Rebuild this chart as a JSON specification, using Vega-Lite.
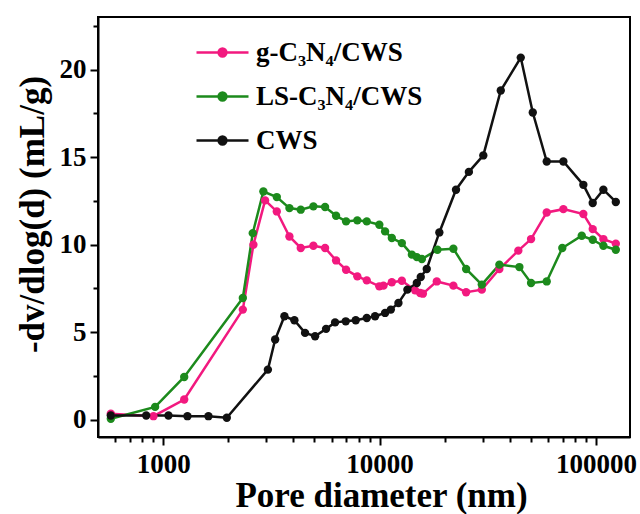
{
  "$schema": "https://vega.github.io/schema/vega-lite/v6.json",
  "autosize": "none",
  "width": 532,
  "height": 420,
  "padding": {"left": 98, "top": 17, "right": 10, "bottom": 77},
  "background": "white",
  "config": {
    "view": {"stroke": "black", "strokeWidth": 2},
    "font": "Liberation Serif",
    "axis": {
      "grid": false,
      "domainColor": "black",
      "domainWidth": 2,
      "tickColor": "black",
      "tickWidth": 2,
      "labelFont": "Liberation Serif",
      "labelFontWeight": "bold",
      "labelFontSize": 27,
      "labelColor": "black",
      "titleFont": "Liberation Serif",
      "titleFontWeight": "bold",
      "titleFontSize": 35,
      "titleColor": "black"
    }
  },
  "data": {
    "values": [
      {"d": 573, "v": 0.33, "s": "g-C₃N₄/CWS"},
      {"d": 902, "v": 0.19, "s": "g-C₃N₄/CWS"},
      {"d": 1251, "v": 1.14, "s": "g-C₃N₄/CWS"},
      {"d": 2334, "v": 6.28, "s": "g-C₃N₄/CWS"},
      {"d": 2612, "v": 9.99, "s": "g-C₃N₄/CWS"},
      {"d": 2958, "v": 12.52, "s": "g-C₃N₄/CWS"},
      {"d": 3350, "v": 11.89, "s": "g-C₃N₄/CWS"},
      {"d": 3831, "v": 10.46, "s": "g-C₃N₄/CWS"},
      {"d": 4322, "v": 9.8, "s": "g-C₃N₄/CWS"},
      {"d": 4945, "v": 9.93, "s": "g-C₃N₄/CWS"},
      {"d": 5598, "v": 9.8, "s": "g-C₃N₄/CWS"},
      {"d": 6293, "v": 9.09, "s": "g-C₃N₄/CWS"},
      {"d": 7000, "v": 8.56, "s": "g-C₃N₄/CWS"},
      {"d": 7889, "v": 8.18, "s": "g-C₃N₄/CWS"},
      {"d": 8724, "v": 7.95, "s": "g-C₃N₄/CWS"},
      {"d": 9970, "v": 7.61, "s": "g-C₃N₄/CWS"},
      {"d": 10420, "v": 7.65, "s": "g-C₃N₄/CWS"},
      {"d": 11390, "v": 7.84, "s": "g-C₃N₄/CWS"},
      {"d": 12670, "v": 7.93, "s": "g-C₃N₄/CWS"},
      {"d": 14590, "v": 7.38, "s": "g-C₃N₄/CWS"},
      {"d": 15390, "v": 7.23, "s": "g-C₃N₄/CWS"},
      {"d": 15850, "v": 7.19, "s": "g-C₃N₄/CWS"},
      {"d": 18370, "v": 7.89, "s": "g-C₃N₄/CWS"},
      {"d": 21920, "v": 7.65, "s": "g-C₃N₄/CWS"},
      {"d": 25100, "v": 7.27, "s": "g-C₃N₄/CWS"},
      {"d": 29660, "v": 7.42, "s": "g-C₃N₄/CWS"},
      {"d": 35750, "v": 8.6, "s": "g-C₃N₄/CWS"},
      {"d": 43740, "v": 9.65, "s": "g-C₃N₄/CWS"},
      {"d": 50090, "v": 10.31, "s": "g-C₃N₄/CWS"},
      {"d": 59180, "v": 11.83, "s": "g-C₃N₄/CWS"},
      {"d": 70630, "v": 12.02, "s": "g-C₃N₄/CWS"},
      {"d": 87360, "v": 11.74, "s": "g-C₃N₄/CWS"},
      {"d": 96520, "v": 10.88, "s": "g-C₃N₄/CWS"},
      {"d": 108100, "v": 10.31, "s": "g-C₃N₄/CWS"},
      {"d": 123400, "v": 10.05, "s": "g-C₃N₄/CWS"},

      {"d": 573, "v": 0.04, "s": "LS-C₃N₄/CWS"},
      {"d": 918, "v": 0.72, "s": "LS-C₃N₄/CWS"},
      {"d": 1251, "v": 2.43, "s": "LS-C₃N₄/CWS"},
      {"d": 2334, "v": 6.94, "s": "LS-C₃N₄/CWS"},
      {"d": 2594, "v": 10.65, "s": "LS-C₃N₄/CWS"},
      {"d": 2904, "v": 13.03, "s": "LS-C₃N₄/CWS"},
      {"d": 3350, "v": 12.71, "s": "LS-C₃N₄/CWS"},
      {"d": 3831, "v": 12.08, "s": "LS-C₃N₄/CWS"},
      {"d": 4322, "v": 11.99, "s": "LS-C₃N₄/CWS"},
      {"d": 4945, "v": 12.18, "s": "LS-C₃N₄/CWS"},
      {"d": 5598, "v": 12.14, "s": "LS-C₃N₄/CWS"},
      {"d": 6293, "v": 11.64, "s": "LS-C₃N₄/CWS"},
      {"d": 7000, "v": 11.32, "s": "LS-C₃N₄/CWS"},
      {"d": 7889, "v": 11.38, "s": "LS-C₃N₄/CWS"},
      {"d": 8724, "v": 11.32, "s": "LS-C₃N₄/CWS"},
      {"d": 9970, "v": 11.13, "s": "LS-C₃N₄/CWS"},
      {"d": 10600, "v": 10.75, "s": "LS-C₃N₄/CWS"},
      {"d": 11390, "v": 10.37, "s": "LS-C₃N₄/CWS"},
      {"d": 12670, "v": 10.08, "s": "LS-C₃N₄/CWS"},
      {"d": 14100, "v": 9.42, "s": "LS-C₃N₄/CWS"},
      {"d": 14860, "v": 9.28, "s": "LS-C₃N₄/CWS"},
      {"d": 15680, "v": 9.17, "s": "LS-C₃N₄/CWS"},
      {"d": 18500, "v": 9.7, "s": "LS-C₃N₄/CWS"},
      {"d": 21920, "v": 9.76, "s": "LS-C₃N₄/CWS"},
      {"d": 25100, "v": 8.6, "s": "LS-C₃N₄/CWS"},
      {"d": 29660, "v": 7.71, "s": "LS-C₃N₄/CWS"},
      {"d": 35750, "v": 8.85, "s": "LS-C₃N₄/CWS"},
      {"d": 44240, "v": 8.71, "s": "LS-C₃N₄/CWS"},
      {"d": 50090, "v": 7.8, "s": "LS-C₃N₄/CWS"},
      {"d": 59180, "v": 7.89, "s": "LS-C₃N₄/CWS"},
      {"d": 69840, "v": 9.8, "s": "LS-C₃N₄/CWS"},
      {"d": 85900, "v": 10.5, "s": "LS-C₃N₄/CWS"},
      {"d": 96520, "v": 10.27, "s": "LS-C₃N₄/CWS"},
      {"d": 108100, "v": 9.93, "s": "LS-C₃N₄/CWS"},
      {"d": 123400, "v": 9.7, "s": "LS-C₃N₄/CWS"},

      {"d": 573, "v": 0.23, "s": "CWS"},
      {"d": 835, "v": 0.23, "s": "CWS"},
      {"d": 1058, "v": 0.23, "s": "CWS"},
      {"d": 1295, "v": 0.19, "s": "CWS"},
      {"d": 1619, "v": 0.19, "s": "CWS"},
      {"d": 1968, "v": 0.1, "s": "CWS"},
      {"d": 3047, "v": 2.85, "s": "CWS"},
      {"d": 3292, "v": 4.57, "s": "CWS"},
      {"d": 3633, "v": 5.9, "s": "CWS"},
      {"d": 4040, "v": 5.67, "s": "CWS"},
      {"d": 4525, "v": 4.95, "s": "CWS"},
      {"d": 5035, "v": 4.76, "s": "CWS"},
      {"d": 5659, "v": 5.18, "s": "CWS"},
      {"d": 6227, "v": 5.55, "s": "CWS"},
      {"d": 6975, "v": 5.61, "s": "CWS"},
      {"d": 7759, "v": 5.67, "s": "CWS"},
      {"d": 8724, "v": 5.8, "s": "CWS"},
      {"d": 9530, "v": 5.9, "s": "CWS"},
      {"d": 10600, "v": 6.09, "s": "CWS"},
      {"d": 11270, "v": 6.28, "s": "CWS"},
      {"d": 12220, "v": 6.66, "s": "CWS"},
      {"d": 13440, "v": 7.42, "s": "CWS"},
      {"d": 14860, "v": 7.8, "s": "CWS"},
      {"d": 15490, "v": 8.14, "s": "CWS"},
      {"d": 16510, "v": 8.6, "s": "CWS"},
      {"d": 18880, "v": 10.69, "s": "CWS"},
      {"d": 22540, "v": 13.13, "s": "CWS"},
      {"d": 25850, "v": 14.15, "s": "CWS"},
      {"d": 30140, "v": 15.09, "s": "CWS"},
      {"d": 36290, "v": 18.8, "s": "CWS"},
      {"d": 44890, "v": 20.68, "s": "CWS"},
      {"d": 51010, "v": 17.54, "s": "CWS"},
      {"d": 59180, "v": 14.74, "s": "CWS"},
      {"d": 70630, "v": 14.74, "s": "CWS"},
      {"d": 87360, "v": 13.41, "s": "CWS"},
      {"d": 96520, "v": 12.37, "s": "CWS"},
      {"d": 108100, "v": 13.13, "s": "CWS"},
      {"d": 123400, "v": 12.43, "s": "CWS"}
    ]
  },
  "mark": {"type": "line", "strokeWidth": 2.5, "point": {"filled": true, "size": 70, "opacity": 1}},
  "encoding": {
    "x": {
      "field": "d",
      "type": "quantitative",
      "scale": {"type": "log", "domain": [500, 143500], "nice": false},
      "axis": {
        "title": "Pore diameter (nm)",
        "values": [600, 700, 800, 900, 1000, 2000, 3000, 4000, 5000, 6000, 7000, 8000, 9000, 10000, 20000, 30000, 40000, 50000, 60000, 70000, 80000, 90000, 100000],
        "format": "d",
        "labelExpr": "(datum.value == 1000 || datum.value == 10000 || datum.value == 100000) ? datum.label : ''",
        "labelOverlap": false,
        "labelFlush": false,
        "labelBaseline": "top",
        "labelPadding": 6,
        "tickSize": {"condition": {"test": "datum.value == 1000 || datum.value == 10000 || datum.value == 100000", "value": 8}, "value": 5},
        "titleX": 283,
        "titleY": 69,
        "titleAlign": "center",
        "titleBaseline": "alphabetic"
      }
    },
    "y": {
      "field": "v",
      "type": "quantitative",
      "scale": {"domain": [-1, 23], "nice": false, "zero": false},
      "axis": {
        "title": "-dv/dlog(d) (mL/g)",
        "values": [0, 2.5, 5, 7.5, 10, 12.5, 15, 17.5, 20, 22.5],
        "labelExpr": "datum.value % 5 == 0 ? datum.label : ''",
        "labelOverlap": false,
        "labelFlush": false,
        "labelPadding": 4,
        "tickSize": {"condition": {"test": "datum.value % 5 == 0", "value": 8}, "value": 5},
        "titleX": -55,
        "titleY": 197,
        "titleAlign": "center",
        "titleBaseline": "alphabetic",
        "titleAngle": -90
      }
    },
    "color": {
      "field": "s",
      "type": "nominal",
      "scale": {
        "domain": ["g-C₃N₄/CWS", "LS-C₃N₄/CWS", "CWS"],
        "range": ["#F2197F", "#1C8A1C", "#111111"]
      },
      "legend": {
        "title": null,
        "orient": "none",
        "legendX": 110,
        "legendY": 21,
        "padding": 0,
        "symbolType": "M-2,0L2,0M0.3,0A0.3,0.3 0 1,1 -0.3,0A0.3,0.3 0 1,1 0.3,0M0.18,0A0.18,0.18 0 1,1 -0.18,0A0.18,0.18 0 1,1 0.18,0M0.06,0A0.06,0.06 0 1,1 -0.06,0A0.06,0.06 0 1,1 0.06,0",
        "symbolSize": 676,
        "symbolStrokeWidth": 2.5,
        "symbolOpacity": 1,
        "labelFont": "Liberation Serif",
        "labelFontWeight": "bold",
        "labelFontSize": 27,
        "labelColor": "black",
        "labelOffset": 19,
        "rowPadding": 16,
        "labelLimit": 400
      }
    }
  }
}
